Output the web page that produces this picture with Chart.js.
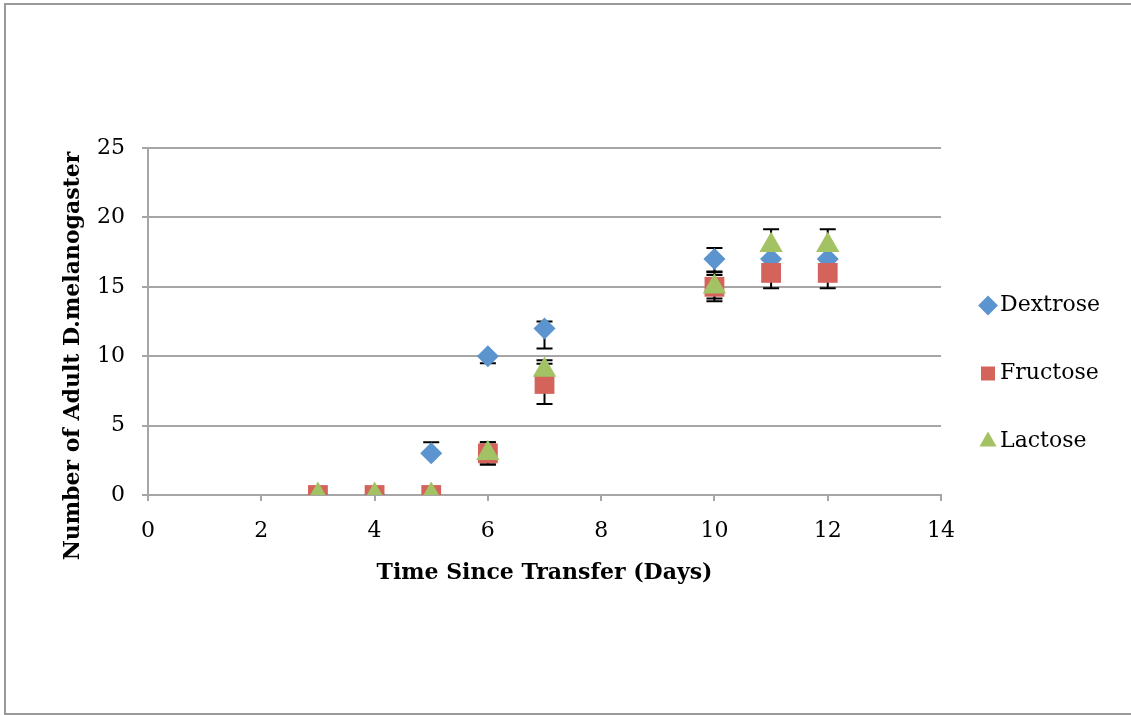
<!DOCTYPE html>
<html>
<head>
<meta charset="utf-8">
<script src="https://cdn.jsdelivr.net/npm/chart.js@4"></script>
<style>
  html, body { margin: 0; padding: 0; background: #fff; overflow: hidden; }
  #wrap { position: relative; width: 1131px; height: 715px; overflow: hidden; }
  #frame { position: absolute; left: 4px; top: 3px; width: 1140px; height: 708px;
           border: 2px solid #999; pointer-events: none; }
</style>
</head>
<body>
<div id="wrap">
  <canvas id="flyChart" width="1131" height="715"></canvas>
  <div id="frame"></div>
</div>
<script>
// data
const days = [3, 4, 5, 6, 7, 10, 11, 12];
const dextrose = [0, 0, 3, 10, 12, 17, 17, 17];
const fructose = [0, 0, 0, 3, 8, 15, 16, 16];
const lactose = [0, 0, 0, 3, 9, 15, 18, 18];

// error bars (upper / lower)
const dextroseErrUp = [0, 0, 0.8, 0, 0.5, 0.8, 0, 0];
const dextroseErrDown = [0, 0, 0, 0.5, 1.45, 0.9, 0, 0];
const fructoseErrUp = [0, 0, 0, 0.8, 1.45, 0.85, 1.1, 1.1];
const fructoseErrDown = [0, 0, 0, 0.8, 1.45, 0.85, 1.1, 1.1];
const lactoseErrUp = [0, 0, 0, 0.8, 0.7, 1.05, 1.15, 1.15];
const lactoseErrDown = [0, 0, 0, 0.8, 0.7, 1.05, 1.15, 1.15];

const xTicks = [0, 2, 4, 6, 8, 10, 12, 14];
const yTicks = [0, 5, 10, 15, 20, 25];
const yTitle = 'Number of Adult D.melanogaster';

const toPoints = (vals) => days.map((d, i) => ({ x: d, y: vals[i] }));

const font = 'DejaVu Serif';

const errorBars = {
  id: 'errorBars',
  beforeDatasetsDraw(chart) {
    const { ctx, scales: { x, y } } = chart;
    ctx.save();
    ctx.strokeStyle = '#000';
    ctx.lineWidth = 2;
    chart.data.datasets.forEach((ds) => {
      ds.data.forEach((p, i) => {
        const up = ds.errUp[i], down = ds.errDown[i];
        if (!up && !down) return;
        const px = x.getPixelForValue(p.x);
        const top = y.getPixelForValue(p.y + up);
        const bot = y.getPixelForValue(p.y - down);
        ctx.beginPath();
        ctx.moveTo(px, top); ctx.lineTo(px, bot);
        if (up) { ctx.moveTo(px - 8, top); ctx.lineTo(px + 8, top); }
        if (down) { ctx.moveTo(px - 8, bot); ctx.lineTo(px + 8, bot); }
        ctx.stroke();
      });
    });
    ctx.restore();
  }
};

// y title sits a bit lower than the axis centre in the original
const yTitlePlugin = {
  id: 'yTitle',
  afterDraw(chart) {
    const { ctx } = chart;
    ctx.save();
    ctx.translate(73, 356);
    ctx.rotate(-Math.PI / 2);
    ctx.font = 'bold 22px "' + font + '"';
    ctx.fillStyle = '#000';
    ctx.textAlign = 'center';
    ctx.textBaseline = 'middle';
    ctx.fillText(yTitle, 0, 0);
    ctx.restore();
  }
};

new Chart(document.getElementById('flyChart').getContext('2d'), {
  type: 'scatter',
  data: {
    datasets: [
      {
        label: 'Dextrose',
        data: toPoints(dextrose),
        errUp: dextroseErrUp, errDown: dextroseErrDown,
        order: 2,
        pointStyle: 'rectRot', pointRadius: 11,
        backgroundColor: '#5b94cf', borderColor: '#5b94cf', borderWidth: 0
      },
      {
        label: 'Fructose',
        data: toPoints(fructose),
        errUp: fructoseErrUp, errDown: fructoseErrDown,
        order: 1,
        pointStyle: 'rect', pointRadius: 14,
        backgroundColor: '#d4635b', borderColor: '#d4635b', borderWidth: 0
      },
      {
        label: 'Lactose',
        data: toPoints(lactose),
        errUp: lactoseErrUp, errDown: lactoseErrDown,
        order: 0,
        pointStyle: 'triangle', pointRadius: 13.5,
        backgroundColor: '#a3c264', borderColor: '#a3c264', borderWidth: 0
      }
    ]
  },
  options: {
    responsive: false,
    animation: false,
    layout: { padding: { left: 56, top: 148, right: 21, bottom: 116 } },
    plugins: {
      tooltip: { enabled: false },
      legend: {
        position: 'right',
        labels: {
          usePointStyle: true,
          boxWidth: 2, boxHeight: 14,
          padding: 46,
          color: '#000',
          font: { family: font, size: 22 },
          sort: (a, b) => a.datasetIndex - b.datasetIndex
        }
      }
    },
    scales: {
      x: {
        type: 'linear', min: 0, max: 14,
        afterBuildTicks: (axis) => { axis.ticks = xTicks.map(v => ({ value: v })); },
        afterFit: (axis) => { axis.height = 104; },
        ticks: { color: '#000', font: { family: font, size: 22 }, padding: 17 },
        grid: { drawOnChartArea: false, color: '#a6a6a6', lineWidth: 2, tickLength: 6 },
        border: { color: '#a6a6a6', width: 2 },
        title: { display: true, text: 'Time Since Transfer (Days)', color: '#000',
                 font: { family: font, size: 22, weight: 'bold' }, padding: { top: 4, bottom: 13 } }
      },
      y: {
        min: 0, max: 25,
        afterBuildTicks: (axis) => { axis.ticks = yTicks.map(v => ({ value: v })); },
        afterFit: (axis) => { axis.width = 92; },
        ticks: { color: '#000', font: { family: font, size: 22 }, padding: 17 },
        grid: { color: '#a6a6a6', lineWidth: 2, tickLength: 6 },
        border: { color: '#a6a6a6', width: 2 },
        title: { display: false }
      }
    }
  },
  plugins: [errorBars, yTitlePlugin]
});
</script>
</body>
</html>
